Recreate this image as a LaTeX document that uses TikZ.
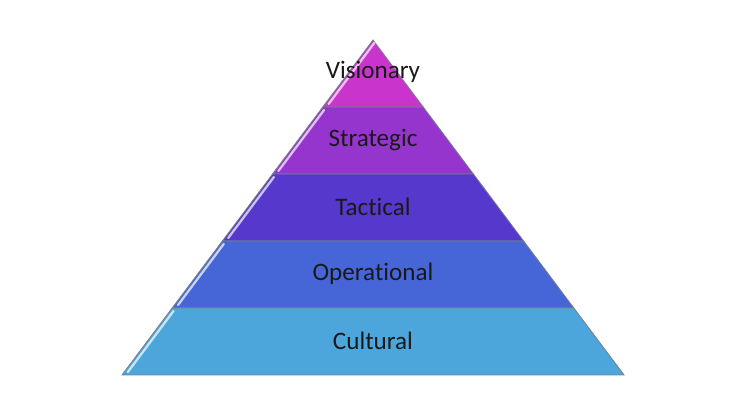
\documentclass[tikz,border=0pt]{standalone}
\usepackage{fontspec}
\setmainfont[Ligatures=NoCommon]{Carlito}
\usepackage{tikz}
\definecolor{visionary}{RGB}{200,52,204}
\definecolor{strategic}{RGB}{150,52,206}
\definecolor{tactical}{RGB}{86,56,204}
\definecolor{operational}{RGB}{70,102,216}
\definecolor{cultural}{RGB}{76,166,220}
\definecolor{layeredge}{RGB}{120,128,140}
\tikzset{layertext/.style={font=\fontsize{14.3}{16}\selectfont, text=black!90}}

\begin{document}
\begin{tikzpicture}[x=0.02cm,y=0.02cm]
\useasboundingbox (0,0) rectangle (750,415);
% layers, top to bottom
\foreach \i/\col in {0/visionary,1/strategic,2/tactical,3/operational,4/cultural}{
  \pgfmathsetmacro{\ytop}{375-67*\i}
  \pgfmathsetmacro{\ybot}{375-67*(\i+1)}
  \pgfmathsetmacro{\wtop}{50.2*\i}
  \pgfmathsetmacro{\wbot}{50.2*(\i+1)}
  \filldraw[fill=\col, draw=layeredge, line width=0.5pt]
    (373-\wbot,\ybot) -- (373+\wbot,\ybot) -- (373+\wtop,\ytop) -- (373-\wtop,\ytop) -- cycle;
  % light edge on the left side
  \pgfmathsetmacro{\ya}{\ybot+3}
  \pgfmathsetmacro{\yb}{\ytop-3}
  \pgfmathsetmacro{\xa}{373-0.749*(375-\ya)+3.5}
  \pgfmathsetmacro{\xb}{373-0.749*(375-\yb)+3.5}
  \draw[white, opacity=0.7, line width=1.3pt, line cap=round] (\xa,\ya) -- (\xb,\yb);
}
\node[layertext] (visionary) at (373,343) {Visionary};
\node[layertext] (strategic) at (373,275) {Strategic};
\node[layertext] (tactical) at (373,208) {Tactical};
\node[layertext] (operational) at (373,141) {Operational};
\node[layertext] (cultural) at (373,74) {Cultural};
\end{tikzpicture}
\end{document}
